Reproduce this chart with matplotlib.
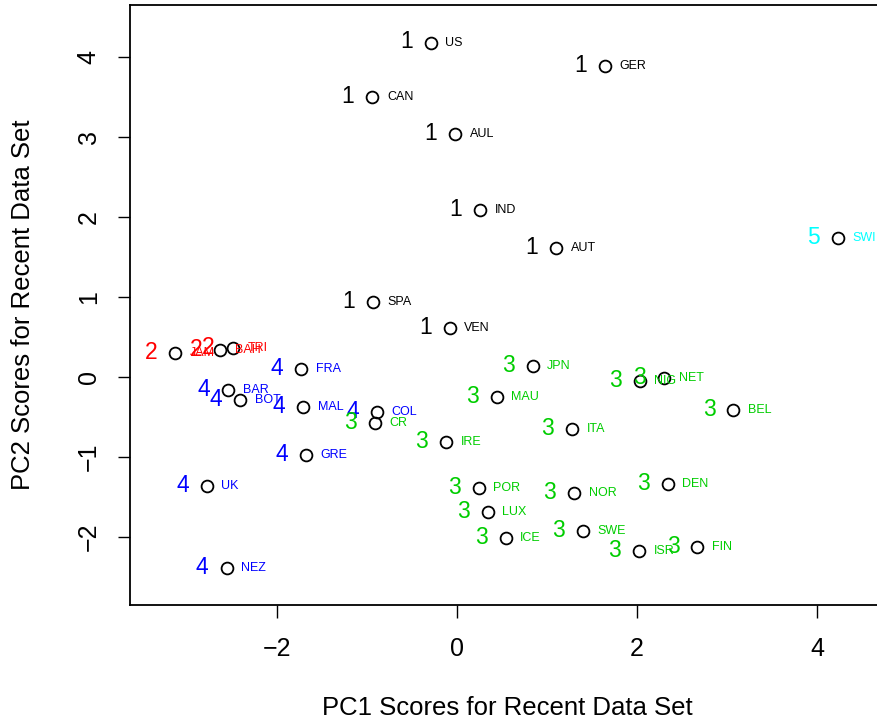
import matplotlib
matplotlib.use("Agg")
import matplotlib.pyplot as plt

plt.rcParams['font.family'] = ['Liberation Sans', 'DejaVu Sans']

countries = ["US", "GER", "CAN", "AUL", "IND", "AUT", "SPA", "VEN",
             "JAM", "BAH", "TRI",
             "FRA", "BAR", "BOT", "MAL", "COL", "GRE", "UK", "NEZ",
             "JPN", "MAU", "IRE", "ITA", "NIG", "NET", "BEL", "CR",
             "POR", "NOR", "LUX", "ICE", "SWE", "ISR", "FIN", "DEN",
             "SWI"]
pc1 = [-0.29, 1.64, -0.94, -0.02, 0.26, 1.10, -0.93, -0.08,
       -3.13, -2.63, -2.49,
       -1.73, -2.54, -2.41, -1.71, -0.89, -1.68, -2.78, -2.56,
       0.84, 0.44, -0.12, 1.28, 2.03, 2.30, 3.07, -0.91,
       0.24, 1.30, 0.34, 0.54, 1.40, 2.02, 2.67, 2.34,
       4.23]
pc2 = [4.18, 3.89, 3.50, 3.04, 2.09, 1.61, 0.94, 0.61,
       0.30, 0.34, 0.36,
       0.10, -0.16, -0.29, -0.38, -0.44, -0.98, -1.36, -2.39,
       0.14, -0.25, -0.81, -0.65, -0.05, -0.01, -0.41, -0.58,
       -1.39, -1.45, -1.69, -2.01, -1.93, -2.18, -2.13, -1.34,
       1.74]
groups = [1, 1, 1, 1, 1, 1, 1, 1,
          2, 2, 2,
          4, 4, 4, 4, 4, 4, 4, 4,
          3, 3, 3, 3, 3, 3, 3, 3,
          3, 3, 3, 3, 3, 3, 3, 3,
          5]
x_ticks = [-2, 0, 2, 4]
y_ticks = [-2, -1, 0, 1, 2, 3, 4]

palette = {1: "#000000", 2: "#FF0000", 3: "#00CD00", 4: "#0000FF", 5: "#00FFFF"}

W, H = 878, 719
fig = plt.figure(figsize=(W / 100, H / 100), dpi=100)
left_px, right_px, top_px, bottom_px = 130, 885, 5, 605
ax = fig.add_axes([left_px / W, 1 - bottom_px / H,
                   (right_px - left_px) / W, (bottom_px - top_px) / H])
ax.set_xlim((left_px - 457) / 90, (right_px - 457) / 90)
ax.set_ylim((377 - bottom_px) / 80, (377 - top_px) / 80)

ax.plot(pc1, pc2, linestyle="none", marker="o", markersize=8.5,
        markerfacecolor="none", markeredgecolor="black", markeredgewidth=1.3,
        clip_on=False, zorder=3)

for name, x, y, g in zip(countries, pc1, pc2, groups):
    c = palette[g]
    ax.annotate(str(g), (x, y), xytext=(-17.5, 0.5), textcoords="offset points",
                ha="center", va="center", fontsize=16.5, color=c, zorder=4)
    ax.annotate(name, (x, y), xytext=(10.5, 0), textcoords="offset points",
                ha="left", va="center", fontsize=9, color=c, zorder=4)

ax.set_xticks(x_ticks)
ax.set_yticks(y_ticks)
ax.set_xticklabels([("\u2212" + str(-t)) if t < 0 else str(t) for t in x_ticks], fontsize=18)
ax.set_yticklabels([("\u2212" + str(-t)) if t < 0 else str(t) for t in y_ticks], fontsize=18,
                   rotation=90, va="center")
ax.tick_params(axis="both", length=9, width=1.0, direction="out", pad=14)
ax.tick_params(axis="y", pad=12)
for s in ax.spines.values():
    s.set_linewidth(1.3)

ax.set_xlabel("PC1 Scores for Recent Data Set", fontsize=18.5, labelpad=25)
ax.set_ylabel("PC2 Scores for Recent Data Set", fontsize=18.5, labelpad=30)

fig.savefig("out.png", dpi=100)
